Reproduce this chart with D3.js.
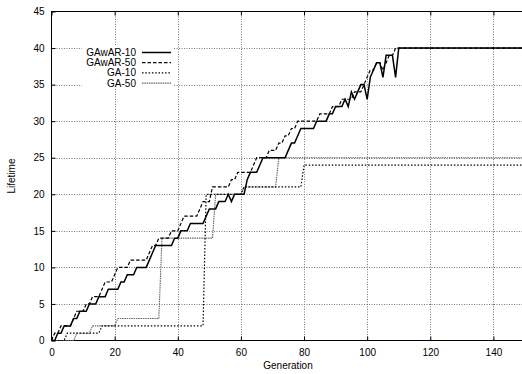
<!DOCTYPE html>
<html>
<head>
<meta charset="utf-8">
<script src="https://cdn.jsdelivr.net/npm/d3@7"></script>
<style>
  body { margin: 0; background: #fff; }
  svg { display: block; }
  text { font-family: "Liberation Sans", Arial, sans-serif; fill: #000; }
</style>
</head>
<body>
<div id="chart"></div>
<script>
// values: [generation, lifetime] corner points
const seriesNames = ['GAwAR-10', 'GAwAR-50', 'GA-10', 'GA-50']
const xTicks = [0, 20, 40, 60, 80, 100, 120, 140]
const yTicks = [0, 5, 10, 15, 20, 25, 30, 35, 40, 45]

const gawar10 = [[0,0],[1,0],[2,1],[3,1],[4,2],[6,2],[7,3],[8,3],[9,4],[11,4],[12,5],[14,5],[15,6],[17,6],
  [18,7],[21,7],[22,8],[23,8],[24,9],[26,9],[27,10],[30,10],[31,11],[32,12],[33,13],[38,13],[39,14],[40,14],
  [41,15],[43,15],[44,16],[48,16],[49,17],[50,18],[52,18],[53,19],[55,19],[56,20],[57,19],[58,20],[61,20],
  [62,22],[63,23],[65,23],[66,24],[67,25],[74,25],[75,26],[76,27],[77,27],[78,28],[79,29],[83,29],[84,30],
  [87,30],[88,31],[89,31],[90,32],[92,32],[93,33],[94,32],[95,34],[96,33],[97,34],[98,35],[99,35],[100,33],
  [101,36],[102,37],[103,38],[104,38],[105,36],[106,39],[108,39],[109,36],[110,40],[150,40]]

const gawar50 = [[0,0],[1,1],[2,1],[3,2],[6,2],[7,3],[8,4],[10,4],[11,5],[12,5],[13,6],[15,6],[16,7],[17,8],
  [19,8],[20,9],[21,10],[24,10],[25,11],[30,11],[31,12],[32,13],[33,13],[34,14],[37,14],[38,15],[40,15],
  [41,16],[42,17],[46,17],[47,18],[48,19],[50,19],[51,21],[56,21],[57,22],[58,22],[59,23],[63,23],[64,24],
  [65,25],[68,25],[69,26],[71,26],[72,27],[73,27],[74,28],[75,28],[76,29],[77,29],[78,30],[84,30],[85,31],
  [88,31],[89,32],[91,32],[92,33],[95,33],[96,34],[98,34],[99,35],[100,36],[101,37],[102,37],[103,38],
  [104,38],[105,37],[106,38],[107,39],[108,39],[109,40],[150,40]]

const ga10 = [[0,0],[4,0],[5,1],[15,1],[16,2],[48,2],[49,20],[60,20],[61,21],[79,21],[80,24],[150,24]]

const ga50 = [[0,0],[7,0],[8,1],[12,1],[13,2],[20,2],[21,3],[34,3],[35,14],[51,14],[52,20],[60,20],
  [61,21],[71,21],[72,25],[150,25]]

const width = 522
const height = 374

const svg = d3.select('#chart').append('svg')
  .attr('width', width)
  .attr('height', height)

// x runs past the window edge, like the original (right border is cut off)
const x = d3.scaleLinear().domain([0, 150]).range([51.5, 525])
const y = d3.scaleLinear().domain([0, 45]).range([340.5, 11.5])

// grid
const grid = svg.append('g')
  .attr('stroke', '#777')
  .attr('stroke-width', 1)
  .attr('stroke-dasharray', '1,1.5')

grid.selectAll('line.gx')
  .data(xTicks.filter(d => d > 0))
  .enter().append('line')
  .attr('x1', d => Math.round(x(d)) + 0.5)
  .attr('x2', d => Math.round(x(d)) + 0.5)
  .attr('y1', y(45))
  .attr('y2', y(0))

grid.selectAll('line.gy')
  .data(yTicks.filter(d => d > 0 && d < 45))
  .enter().append('line')
  .attr('x1', x(0))
  .attr('x2', x(150))
  .attr('y1', d => Math.round(y(d)) + 0.5)
  .attr('y2', d => Math.round(y(d)) + 0.5)

// axes with inward ticks
svg.append('g')
  .attr('transform', `translate(0,${y(0)})`)
  .call(d3.axisBottom(x).tickValues(xTicks).tickSize(-4).tickPadding(8))
svg.append('g')
  .attr('transform', `translate(${x(0)},0)`)
  .call(d3.axisLeft(y).tickValues(yTicks).tickSize(-4).tickPadding(7))
svg.append('g')
  .attr('transform', `translate(0,${y(45)})`)
  .call(d3.axisTop(x).tickValues(xTicks).tickSize(-4).tickFormat(''))

svg.selectAll('.domain').remove()
svg.selectAll('.tick line').attr('stroke', '#000')
svg.selectAll('.tick text')
  .style('font-family', '"Liberation Sans", Arial, sans-serif')
  .style('font-size', '10px')
  .attr('fill', '#000')

// border
svg.append('rect')
  .attr('x', x(0))
  .attr('y', y(45))
  .attr('width', x(150) - x(0))
  .attr('height', y(0) - y(45))
  .attr('fill', 'none')
  .attr('stroke', '#000')
  .attr('stroke-width', 1)

// series
const styles = [
  {data: gawar10, color: '#000', width: 1.5, dash: null},
  {data: gawar50, color: '#000', width: 1.2, dash: '3.5,2'},
  {data: ga10, color: '#000', width: 1.2, dash: '1.5,1.8'},
  {data: ga50, color: '#666', width: 1.1, dash: '1.5,0.8'}
]

const line = d3.line()
  .x(d => x(d[0]))
  .y(d => y(d[1]))

svg.append('g').selectAll('path')
  .data(styles.slice().reverse())
  .enter().append('path')
  .attr('d', d => line(d.data))
  .attr('fill', 'none')
  .attr('stroke', d => d.color)
  .attr('stroke-width', d => d.width)
  .attr('stroke-dasharray', d => d.dash)
  .attr('stroke-linejoin', 'miter')

// legend (opaque box like gnuplot)
const legend = svg.append('g')
legend.append('rect')
  .attr('x', 82).attr('y', 46)
  .attr('width', 91).attr('height', 42)
  .attr('fill', '#fff')

seriesNames.forEach((name, i) => {
  const ly = 52.5 + i * 10.2
  legend.append('text')
    .attr('x', 136)
    .attr('y', ly)
    .attr('dy', '0.35em')
    .attr('text-anchor', 'end')
    .style('font-size', '10px')
    .text(name)
  legend.append('line')
    .attr('x1', 142).attr('x2', 171)
    .attr('y1', ly).attr('y2', ly)
    .attr('stroke', styles[i].color)
    .attr('stroke-width', styles[i].width)
    .attr('stroke-dasharray', styles[i].dash)
})

// axis titles
svg.append('text')
  .attr('x', 288)
  .attr('y', 369)
  .attr('text-anchor', 'middle')
  .style('font-size', '10px')
  .text('Generation')

svg.append('text')
  .attr('transform', 'translate(15,176) rotate(-90)')
  .attr('text-anchor', 'middle')
  .style('font-size', '10px')
  .text('Lifetime')
</script>
</body>
</html>
